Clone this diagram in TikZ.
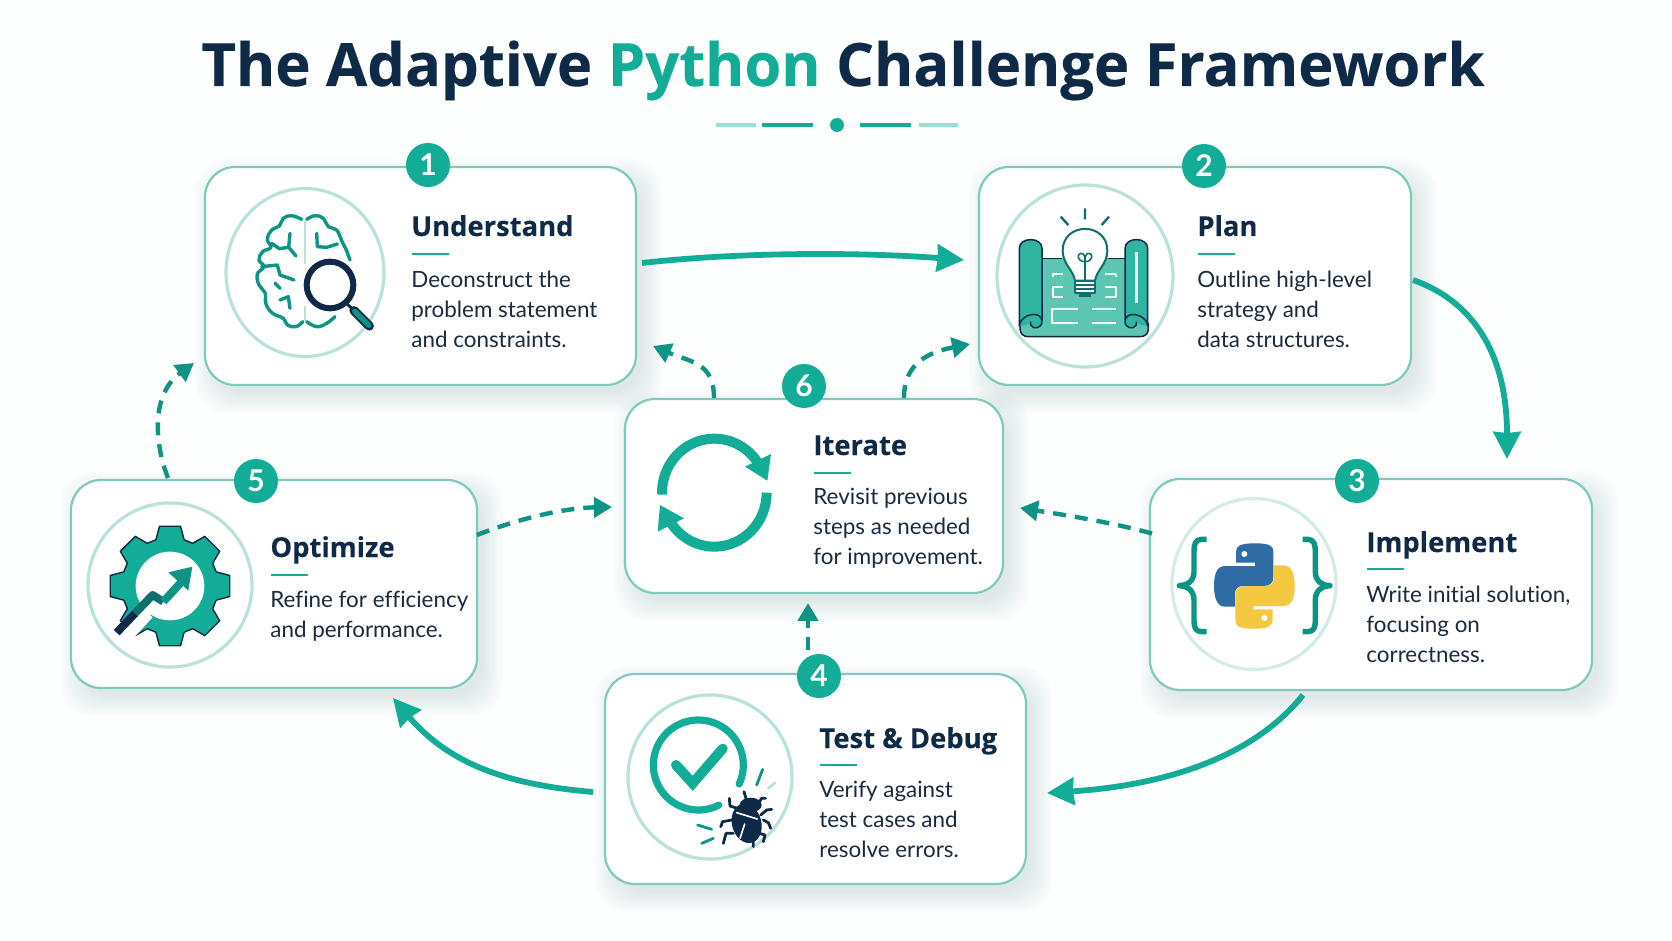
\documentclass[tikz,border=0pt]{standalone}
\usepackage{fontspec}
\usetikzlibrary{arrows.meta,calc}
\setmainfont{Lato}[Ligatures=NoCommon]
\newfontfamily\ttlfont{Open Sans}[BoldFeatures={FakeBold=0.25}]
\newfontfamily\hdfont{Open Sans}[BoldFeatures={FakeBold=0.15}]
\definecolor{teal1}{HTML}{13AD97}
\definecolor{teal2}{HTML}{0E9484}
\definecolor{tealdk}{HTML}{0F6F6C}
\definecolor{cardline}{HTML}{7ECABD}
\definecolor{ringc}{HTML}{B9E2DB}
\definecolor{navy}{HTML}{0F2A47}
\definecolor{bodyc}{HTML}{1A2B3E}
\definecolor{sheet}{HTML}{5CC6B3}
\definecolor{rollc}{HTML}{2FB5A0}
\definecolor{pyb}{HTML}{2F6CA6}
\definecolor{pyy}{HTML}{F5C93F}
\definecolor{shadowc}{HTML}{3F6F6B}
\tikzset{
 cardbox/.style={draw=cardline,line width=1.1pt,fill=white,rounded corners=15pt,inner sep=0pt,outer sep=0pt},
 badge/.style={circle,fill=teal1,text=white,minimum size=22pt,inner sep=0pt,font=\fontsize{15}{15}\selectfont\bfseries},
 headtxt/.style={anchor=base west,inner sep=0pt,text=navy,font=\hdfont\fontsize{13.7}{16}\selectfont\bfseries},
 bodytxt/.style={anchor=north west,inner sep=0pt,text=bodyc,align=left,font=\fontsize{11.2}{15}\selectfont},
 solidarrow/.style={draw=teal1,line width=2.9pt,-{Stealth[length=13.5pt,width=13.5pt,inset=.5pt]}},
 dasharrow/.style={draw=teal2,line width=2.2pt,dash pattern=on 6.5pt off 4.5pt,-{Stealth[length=9pt,width=10pt,inset=0pt]}},
 icon/.style={shift={#1},x=0.1666667pt,y=-0.1666667pt},
}
\newcommand\cardshadow[4]{%
 \foreach \e in {18,16,14,12,10,8,6,4,2,0,-2}{%
  \fill[shadowc,opacity=.013,rounded corners=16pt] ({#1+8-\e},{#2+10-\e}) rectangle ({#3+8+\e},{#4+10+\e});}}
\newcommand\cardnode[5]{%
 \cardshadow{#2}{#3}{#4}{#5}%
 \node[cardbox,minimum width={(#4-#2)*0.5pt},minimum height={(#5-#3)*0.5pt}] (#1) at ({(#2+#4)/2},{(#3+#5)/2}) {};}
\newcommand\cardtext[7]{% name x titlebase rule first-base title body
 \node[headtxt] (#1h) at ({#2-1},#3) {#6};
 \draw[teal1,line width=1.2pt] (#2,#4) -- ({#2+37},#4);
 \node[bodytxt] (#1b) at ({#2-1},{#5-20}) {\rule{0pt}{10pt}#7};}
\begin{document}
\begin{tikzpicture}[x=0.5pt,y=-0.5pt]
\useasboundingbox (0,0) rectangle (1672,941);
\fill[white!99!teal1] (0,0) rectangle (1672,941);
% title
\node[anchor=base,inner sep=0pt,text=navy,font=\ttlfont\fontsize{29.85}{36}\selectfont\bfseries] (title) at (843,86) {The Adaptive \textcolor{teal1}{Python} Challenge Framework};
\fill[teal1,opacity=.4] (716,123) rectangle (756,127);
\fill[teal1] (762,123) rectangle (813,127);
\fill[teal1] (837,125) circle (7);
\fill[teal1] (860,123) rectangle (911,127);
\fill[teal1,opacity=.4] (919,123) rectangle (958,127);
% cards
\cardnode{c1}{205}{167}{636}{385}
\cardnode{c2}{979}{167}{1411}{385}
\cardnode{c3}{1150}{479}{1592}{690}
\cardnode{c6}{625}{399}{1003}{593}
\cardnode{c5}{71}{480}{477}{688}
\cardnode{c4}{605}{674}{1026}{884}
% rings
\draw[ringc,line width=1.6pt] (305,272.5) ellipse (79 and 84);
\draw[ringc,line width=1.6pt] (1085,276) ellipse (88 and 91);
\draw[ringc!65,line width=1.6pt] (1254,584) ellipse (82 and 85.5);
\draw[ringc,line width=1.6pt] (710,777) circle (82);
\draw[ringc,line width=1.6pt] (170,585) circle (82);
% badges
\node[badge] (b1) at (428,165) {1};
\node[badge] (b2) at (1204,166) {2};
\node[badge] (b3) at (1357,481) {3};
\node[badge] (b4) at (819,676) {4};
\node[badge] (b5) at (256,481) {5};
\node[badge] (b6) at (804,386) {6};
% text
\cardtext{c1}{412}{236}{254}{287}{Understand}{Deconstruct the\\problem statement\\and constraints.}
\cardtext{c2}{1198}{236}{254}{287}{Plan}{Outline high-level\\strategy and\\data structures.}
\cardtext{c3}{1367}{552}{569}{602}{Implement}{Write initial solution,\\focusing on\\correctness.}
\cardtext{c4}{820}{748}{765}{797}{Test \& Debug}{Verify against\\test cases and\\resolve errors.}
\cardtext{c5}{271}{557}{575}{607}{Optimize}{Refine for efficiency\\and performance.}
\cardtext{c6}{814}{455}{473}{504}{Iterate}{Revisit previous\\steps as needed\\for improvement.}
% connectors
\draw[solidarrow] ([shift={(6,-13)}]c1.east) .. controls (740,252) and (860,252) .. ([shift={(-15,-16)}]c2.west);
\draw[solidarrow] ([shift={(2,4)}]c2.east) .. controls (1470,300) and (1507,350) .. ([shift={(136,-20)}]c3.north);
\draw[solidarrow] ([shift={(-68,5)}]c3.south) .. controls (1255,755) and (1170,785) .. ([shift={(21,14)}]c4.east);
\draw[solidarrow] ([shift={(-12,13)}]c4.west) .. controls (510,785) and (450,765) .. ([shift={(119,10)}]c5.south);
\draw[dasharrow] ([shift={(-106,-2)}]c5.north) .. controls (155,445) and (150,395) .. ([shift={(-11,87)}]c1.west);
\draw[dasharrow] ([shift={(0,-49)}]c5.east) .. controls (520,518) and (565,508) .. ([shift={(-13,11)}]c6.west);
\draw[dasharrow] ([shift={(2,-51)}]c3.west) .. controls (1110,522) and (1065,515) .. ([shift={(17,12)}]c6.east);
\draw[dasharrow] ([shift={(-7.5,-24)}]c4.north) -- ([shift={(-6,10)}]c6.south);
\draw[dasharrow] ([shift={(-100,-1)}]c6.north) .. controls (714,362) and (690,362) .. ([shift={(17,70)}]c1.east);
\draw[dasharrow] ([shift={(90,-1)}]c6.north) .. controls (904,362) and (930,352) .. ([shift={(-9,68)}]c2.west);
% ---- brain icon
\begin{scope}[icon={(190,150)},line cap=round,line join=round]
\draw[ringc,line width=1.2pt] (345,215) -- (345,340) (345,470) -- (345,510);
\begin{scope}[teal2,line width=1.7pt]
\draw plot[smooth,tension=.7] coordinates {(335,208)(305,197)(280,205)(268,228)(245,240)(232,268)(243,292)(218,305)(207,330)(222,350)(202,372)(207,405)(225,428)(228,462)(248,490)(280,505)(292,525)(318,530)(338,515)};
\draw plot[smooth,tension=.7] coordinates {(350,208)(375,197)(400,205)(415,230)(440,240)(455,272)(468,298)(480,330)};
\draw plot[smooth,tension=.7] coordinates {(350,515)(380,530)(410,520)(435,500)};
\draw (300,250) -- (296,292) -- (318,318) (296,292) -- (268,296) -- (245,280);
\draw (380,250) -- (382,290) -- (410,292) -- (442,282);
\draw (215,350) -- (262,345) -- (270,375) -- (312,390);
\draw (255,400) -- (270,415) (270,450) -- (295,440) -- (300,475);
\end{scope}
\fill[white] (420,405) circle (72);
\draw[navy,line width=1.5pt] (470,460) -- (492,482);
\draw[navy,line width=4.6pt] (492,482) -- (538,528);
\draw[teal2,line width=2.6pt] (494,484) -- (536,526);
\draw[navy,line width=3pt] (420,405) circle (70);
\end{scope}
% ---- plan icon
\begin{scope}[icon={(970,150)},line join=round]
\draw[navy,line width=.75pt,fill=sheet] (190,510) -- (150,520) -- (150,535) .. controls (150,552) and (160,560) .. (175,560) -- (510,560) .. controls (525,560) and (535,552) .. (535,535) -- (535,520) -- (490,510) -- cycle;
\fill[sheet] (195,325) rectangle (490,552);
\draw[navy,line width=.75pt] (216,325) -- (275,325) (415,325) -- (465,325);
\draw[navy,line width=.75pt,fill=rollc] (148,530) -- (148,295) .. controls (148,260) and (216,260) .. (216,295) -- (216,510);
\draw[navy,line width=.75pt,fill=rollc] (533,530) -- (533,295) .. controls (533,260) and (465,260) .. (465,295) -- (465,510);
\draw[navy,line width=.75pt,fill=rollc] (148,525) .. controls (155,490) and (216,480) .. (216,515) .. controls (216,535) and (190,540) .. (182,525) -- (182,515);
\draw[navy,line width=.75pt,fill=rollc] (533,525) .. controls (526,490) and (465,480) .. (465,515) .. controls (465,535) and (491,540) .. (499,525) -- (499,515);
\draw[white!85!sheet,line width=1.4pt] (500,305) -- (500,460);
\draw[white!90!sheet,line width=1pt] (248,380) -- (248,372) -- (280,372) (280,410) -- (248,410) -- (248,440) -- (280,440)
 (325,478) -- (245,478) -- (245,518) -- (325,518) (365,478) -- (438,478) (365,518) -- (438,518)
 (405,372) -- (437,372) -- (437,380) (405,410) -- (437,410) -- (437,440) -- (405,440);
\draw[tealdk,line width=1pt,fill=white] (315,392) .. controls (310,360) and (278,342) .. (278,302) .. controls (278,215) and (412,215) .. (412,302) .. controls (412,342) and (380,360) .. (375,392) -- cycle;
\draw[tealdk,line width=1pt,fill=white] (315,392) rectangle (375,428);
\draw[tealdk,line width=1pt] (315,404) -- (375,404) (315,416) -- (375,416);
\fill[tealdk] (328,428) rectangle (362,441);
\draw[tealdk,line width=.8pt] (345,392) -- (345,335) (345,335) .. controls (320,335) and (320,310) .. (333,310) .. controls (343,310) and (345,320) .. (345,335) .. controls (345,320) and (347,310) .. (357,310) .. controls (370,310) and (370,335) .. (345,335);
\draw[tealdk,line width=1.2pt] (345,175) -- (345,208) (272,200) -- (295,225) (417,200) -- (395,225);
\end{scope}
% ---- python icon
\begin{scope}[icon={(1140,460)},line join=round]
\draw[teal2,line width=2.7pt] (200,238) -- (185,238) .. controls (165,238) and (162,255) .. (162,275) -- (162,335) .. controls (162,365) and (140,377) .. (118,377) .. controls (140,377) and (162,390) .. (162,420) -- (162,480) .. controls (162,500) and (165,515) .. (185,515) -- (200,515);
\draw[teal2,line width=2.7pt] (488,238) -- (503,238) .. controls (523,238) and (526,255) .. (526,275) -- (526,335) .. controls (526,365) and (548,377) .. (570,377) .. controls (548,377) and (526,390) .. (526,420) -- (526,480) .. controls (526,500) and (523,515) .. (503,515) -- (488,515);
\fill[pyb] (288,308) -- (288,275) .. controls (288,258) and (300,250) .. (345,250) .. controls (390,250) and (400,258) .. (400,275) -- (400,350) .. controls (400,370) and (390,378) .. (370,378) -- (310,378) .. controls (295,378) and (285,385) .. (285,400) -- (285,440) -- (255,440) .. controls (232,440) and (222,415) .. (222,378) .. controls (222,340) and (232,318) .. (255,318) -- (345,318) -- (345,308) -- cycle;
\fill[white] (313,282) circle (9);
\begin{scope}[rotate around={180:(343,378)}]
\fill[pyy] (288,308) -- (288,275) .. controls (288,258) and (300,250) .. (345,250) .. controls (390,250) and (400,258) .. (400,275) -- (400,350) .. controls (400,370) and (390,378) .. (370,378) -- (310,378) .. controls (295,378) and (285,385) .. (285,400) -- (285,440) -- (255,440) .. controls (232,440) and (222,415) .. (222,378) .. controls (222,340) and (232,318) .. (255,318) -- (345,318) -- (345,308) -- cycle;
\fill[white] (313,282) circle (9);
\end{scope}
\end{scope}
% ---- test icon
\begin{scope}[icon={(600,670)},line cap=round,line join=round]
\draw[teal1,line width=3.6pt] (295,285) ++(63:135) arc[start angle=63,end angle=385,radius=135];
\draw[teal1,line width=5pt,line join=miter] (228,285) -- (278,340) -- (368,236);
\draw[teal2,line width=1.4pt] (470,345) -- (488,298) (293,465) -- (335,478) (305,520) -- (340,505);
\draw[ringc,line width=1.4pt] (505,355) -- (525,338);
\begin{scope}[navy,line width=1.4pt]
\draw (412,415) -- (390,408) -- (388,385) (395,450) -- (368,455) -- (362,470) (400,490) -- (378,490) -- (370,520)
 (472,405) -- (485,385) -- (497,385) (482,435) -- (500,420) -- (515,418) (490,450) -- (505,458) -- (512,475) (478,490) -- (495,495) -- (490,515)
 (438,385) -- (432,365) (460,510) -- (460,530);
\fill[rotate around={15:(440,460)}] (440,460) ellipse (44 and 60);
\fill (452,405) ellipse (33 and 22);
\end{scope}
\draw[white,line width=.8pt] (410,428) -- (472,447) (434,462) -- (420,505);
\end{scope}
% ---- gear icon
\begin{scope}[icon={(60,460)},line join=round]
\begin{scope}[shift={(330,378)}]
\draw[navy,line width=.7pt,fill=teal1] (-17:145)
 \foreach \a in {0,45,...,315}{ -- ({\a-17}:145) -- ({\a-10}:182) -- ({\a+10}:182) -- ({\a+17}:145) } -- cycle;
\fill[white] (0,0) circle (103);
\end{scope}
\draw[white,line width=5.5pt] (190,530) -- (278,432) -- (310,450) -- (350,405);
\draw[white,line width=3.5pt] (215,525) -- (270,465);
\draw[navy,line width=4pt] (170,518) -- (225,460);
\draw[tealdk,line width=4pt] (225,460) -- (278,405) -- (310,425);
\draw[teal2,line width=4pt] (310,425) -- (365,365);
\fill[teal2] (397,320) -- (325,337) -- (385,392) -- cycle;
\end{scope}
% ---- iterate icon
\begin{scope}[icon={(610,350)},line join=round]
\draw[teal1,line width=5pt] (313,428) ++({157*cos(178)},{162*sin(178)}) arc[start angle=178,end angle=330,x radius=157,y radius=162];
\draw[teal1,line width=5pt] (313,428) ++({157*cos(0)},{162*sin(0)}) arc[start angle=0,end angle=152,x radius=157,y radius=162];
\fill[teal1] (483,312) -- (405,350) -- (472,392) -- cycle;
\fill[teal1] (143,545) -- (150,465) -- (222,505) -- cycle;
\end{scope}
\end{tikzpicture}
\end{document}
